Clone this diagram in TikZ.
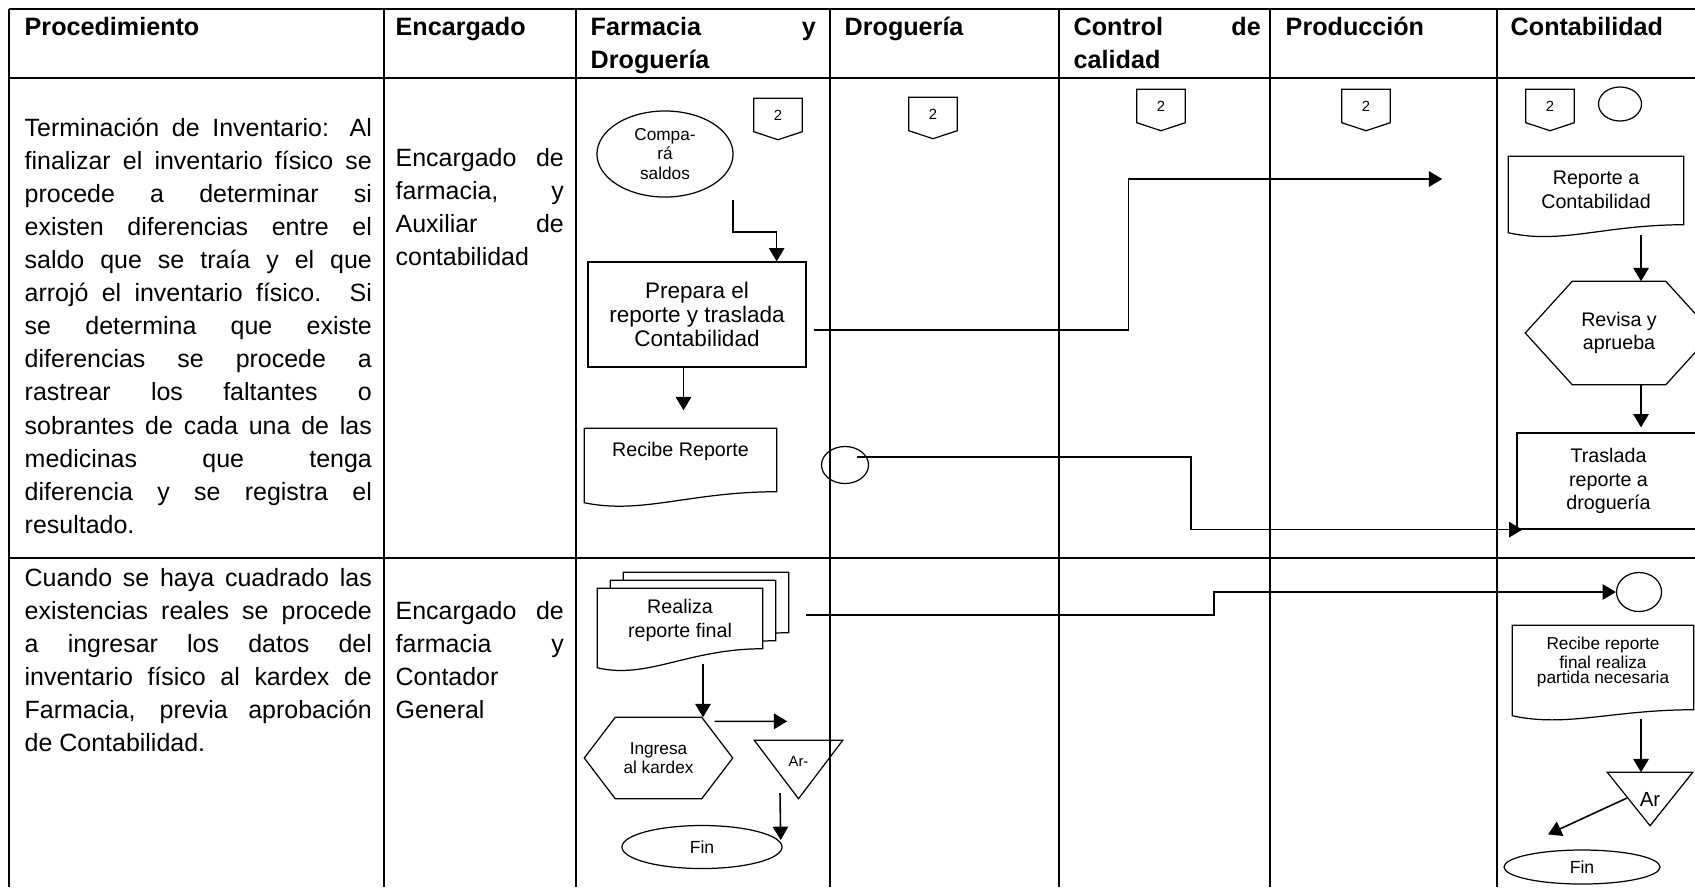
\documentclass[tikz,border=0pt]{standalone}
\usepackage{fontspec}
\setmainfont{Liberation Sans}
\usepackage{tikz}
\usetikzlibrary{positioning,calc,shapes,shapes.geometric,arrows.meta,backgrounds}
\newcommand{\bodyfont}{\fontsize{7.1}{9.4}\selectfont\hyphenpenalty=10000\tolerance=10000\relax}
\newcommand{\hdrfont}{\bfseries\fontsize{7.15}{9.4}\selectfont\hyphenpenalty=10000\tolerance=10000\relax}
\newcommand{\prepfont}{\fontsize{6.4}{6.9}\selectfont}
\newcommand{\midfont}{\fontsize{5.6}{6.7}\selectfont}
\newcommand{\smallfont}{\fontsize{4.9}{5.6}\selectfont}
\newcommand{\notefont}{\fontsize{4.9}{4.3}\selectfont}
\newcommand{\tinyfont}{\fontsize{4.2}{4.5}\selectfont}
\newcommand{\arfont}{\fontsize{4.2}{4.5}\selectfont}
\newcommand{\finfont}{\fontsize{5}{5.5}\selectfont}
\tikzset{tabline/.style={line width=0.6pt}}
\tikzset{arr/.style={draw, line width=0.45pt, -{Triangle[length=3.8pt,width=4.4pt]}}}
\tikzset{shp/.style={line width=0.35pt}}
\tikzset{cell/.style={anchor=base west, inner sep=0pt, align=justify, font=\bodyfont}}
\tikzset{hdr/.style={cell, font=\hdrfont}}
\tikzset{fr/.style={rectangle, inner sep=0pt, align=center}}
\tikzset{oval/.style={draw, shp, ellipse, inner sep=0pt, align=center}}
\tikzset{sz/.style 2 args={minimum width=#1, minimum height=#2}}
% outlines drawn round plain nodes
\newcommand{\docframe}[4][]{\draw[shp,#1] ($(#2.south west)+(0,#4)$) -- (#2.north west) -- (#2.north east) -- ($(#2.south east)+(0,#3)$)
  .. controls ($(#2.south east)!.45!(#2.south west)+(0,#3)$) and ($(#2.south west)!.3!(#2.south east)+(0,#4+12)$) .. ($(#2.south west)+(0,#4)$) -- cycle;}
\newcommand{\hexframe}[2]{\draw[shp] (#1.west) -- ($(#1.north west)+(#2,0)$) -- ($(#1.north east)+(-#2,0)$) -- (#1.east) -- ($(#1.south east)+(-#2,0)$) -- ($(#1.south west)+(#2,0)$) -- cycle;}
\newcommand{\pageframe}[1]{\draw[shp] (#1.north west) -- (#1.north east) -- (#1.south east) -- ($(#1.south)+(0,8)$) -- (#1.south west) -- cycle;}
\newcommand{\triframe}[1]{\draw[shp] (#1.north west) -- (#1.north east) -- (#1.south) -- cycle;}

\begin{document}
\begin{tikzpicture}[x=0.01cm, y=-0.01cm]
	\useasboundingbox (0,0) rectangle (1695,887);
	\clip (0,0) rectangle (1695,887);
	% table
	\foreach \cx in {9,384,576,830,1059,1270,1497}
		\draw[tabline] (\cx,9) -- (\cx,887);
	\foreach \ry in {9,78,558}
		\draw[tabline] (9,\ry) -- (1695,\ry);
	\node[hdr, text width=3.47cm] (hproc) at (24,35) {Procedimiento};
	\node[hdr, text width=1.68cm] (henc) at (395,35) {Encargado};
	\node[hdr, text width=2.25cm] (hfar) at (590,35) {Farmacia y\linebreak Droguería};
	\node[hdr, text width=2cm] (hdro) at (844,35) {Droguería};
	\node[hdr, text width=1.87cm] (hcal) at (1073,35) {Control de\linebreak calidad};
	\node[hdr, text width=1.9cm] (hpro) at (1285,35) {Producción};
	\node[hdr, text width=1.8cm] (hcon) at (1510,35) {Contabilidad};
%
	\node[cell, text width=3.47cm] (proc1) at (24,136.5) {Terminación de Inventario: Al\linebreak finalizar el inventario físico se\linebreak procede a determinar si\linebreak existen diferencias entre el\linebreak saldo que se traía y el que\linebreak arrojó el inventario físico. Si\linebreak se determina que existe\linebreak diferencias se procede a\linebreak rastrear los faltantes o\linebreak sobrantes de cada una de las\linebreak medicinas que tenga\linebreak diferencia y se registra el\linebreak resultado.};
	\node[cell, text width=1.68cm] (enc1) at (395,166) {Encargado de\linebreak farmacia, y\linebreak Auxiliar de\linebreak contabilidad};
	\node[cell, text width=3.47cm] (proc2) at (24,586) {Cuando se haya cuadrado las\linebreak existencias reales se procede\linebreak a ingresar los datos del\linebreak inventario físico al kardex de\linebreak Farmacia, previa aprobación\linebreak de Contabilidad.};
	\node[cell, text width=1.68cm] (enc2) at (395,619) {Encargado de\linebreak farmacia y\linebreak Contador\linebreak General};
	% row 1
	\foreach \px/\py [count=\i] in {778/115, 933/114, 1161/106, 1366/106, 1550/106} {
		\node[fr, sz={0.47cm}{0.32cm}, font=\tinyfont] (pg\i) at (\px,\py) {2};
		\pageframe{pg\i}
	}
	\node[oval, sz={1.36cm}{0.86cm}, font=\smallfont] (cmp) at (665,154) {Compa-\\rá\\saldos};
	\node[oval, sz={0.43cm}{0.34cm}] (cir1) at (1620,104) {};
	\node[fr, draw, shp, sz={2.18cm}{1.05cm}, font=\prepfont] (prep) at (697,314.5) {Prepara el\\reporte y traslada\\Contabilidad};
	\node[fr, sz={1.91cm}{0.44cm}, font=\midfont] (recr) at (680.5,451) {Recibe Reporte};
	\docframe{recr}{18}{29}
	\node[oval, sz={0.47cm}{0.37cm}] (dcir) at (845,465) {};
	\node[fr, sz={1.74cm}{0.66cm}, font=\midfont] (rac) at (1596,190) {Reporte a\\Contabilidad};
	\docframe{rac}{1}{9}
	\node[fr, sz={1.86cm}{1.02cm}, font=\midfont] (rev) at (1619,333) {Revisa y\\aprueba};
	\hexframe{rev}{47}
	\node[fr, draw, shp, sz={1.83cm}{0.96cm}, font=\midfont] (tras) at (1608.5,481) {Traslada\\reporte a\\droguería};
%
	\coordinate (cmpout) at ($(cmp.center)+(68,46)$);
	\draw[arr] (cmpout) -- ++(0,32) -| ($(prep.north east)+(-30,0)$);
	\coordinate (recrin) at ($(recr.north)+(3,-18)$);
	\draw[arr] (prep.south -| recrin) -- (recrin);
	\coordinate (racin) at ($(rac.west)+(-66,-11)$);
	\draw[arr] ($(prep.east)+(7,15.5)$) -- ++(315,0) |- (racin);
	\draw[arr] ($(dcir.center)+(12,-8)$) -- ++(334,0) |- ($(tras.south west)+(6,0)$);
	\coordinate (racout) at ($(rac.south)+(45,11)$);
	\draw[arr] (racout) -- (racout |- rev.north);
	\draw[arr] (racout |- rev.south) -- ($(racout |- tras.north)+(0,-5)$);
	% row 2
	\node[fr, sz={1.64cm}{0.63cm}] (rf3) at (706,604.5) {};
	\node[fr, sz={1.64cm}{0.63cm}] (rf2) at (693,612.5) {};
	\node[fr, sz={1.64cm}{0.63cm}, font=\midfont] (rf) at (680,620.5) {Realiza\\reporte final};
	\begin{scope}[on background layer]
		\docframe[fill=white]{rf3}{-4}{15}
		\docframe[fill=white]{rf2}{-4}{15}
		\docframe[fill=white]{rf}{-4}{15}
	\end{scope}
	\node[fr, sz={1.47cm}{0.80cm}, font=\smallfont] (ing) at (658.5,758) {Ingresa\\al kardex};
	\hexframe{ing}{31}
	\node[fr, sz={0.87cm}{0.57cm}, font=\arfont, text depth=4.5pt] (ar1) at (798.5,769.5) {Ar-};
	\triframe{ar1}
	\node[oval, sz={1.60cm}{0.43cm}, font=\finfont] (fin1) at (702,847) {Fin};
	\node[oval, sz={0.45cm}{0.39cm}] (cc2) at (1639,592) {};
	\node[fr, sz={1.80cm}{0.72cm}, font=\notefont] (rrf) at (1603,662) {Recibe reporte\\final realiza\\partida necesaria};
	\docframe{rrf}{11}{17}
	\node[fr, sz={0.84cm}{0.52cm}, font={\fontsize{5.8}{6}\selectfont}] (ar2) at (1650,799) {Ar};
	\triframe{ar2}
	\node[oval, sz={1.56cm}{0.34cm}, font=\finfont] (fin2) at (1582,867) {Fin};
%
	\draw[arr] ($(rf.east)+(43,-5.5)$) -- ++(408,0) |- (cc2.west);
	\coordinate (rfout) at ($(rf.south)+(23,11)$);
	\draw[arr] (rfout) -- (rfout |- ing.north);
	\coordinate (ingout) at ($(ing.north)+(56,4)$);
	\coordinate (ar1in) at ($(ar1.north west)+(33,-19)$);
	\draw[arr] (ingout) -- (ar1in);
	\draw[arr] ($(ar1.center)+(-18.5,23.5)$) -- ($(fin1.east)+(-2,-7)$);
	\coordinate (rrfout) at ($(rrf.south)+(38,20)$);
	\draw[arr] (rrfout) -- (rrfout |- ar2.north);
	\draw[arr] ($(ar2.center)+(-23,-1)$) -- ($(fin2.north)+(-34,-15)$);
\end{tikzpicture}
\end{document}
